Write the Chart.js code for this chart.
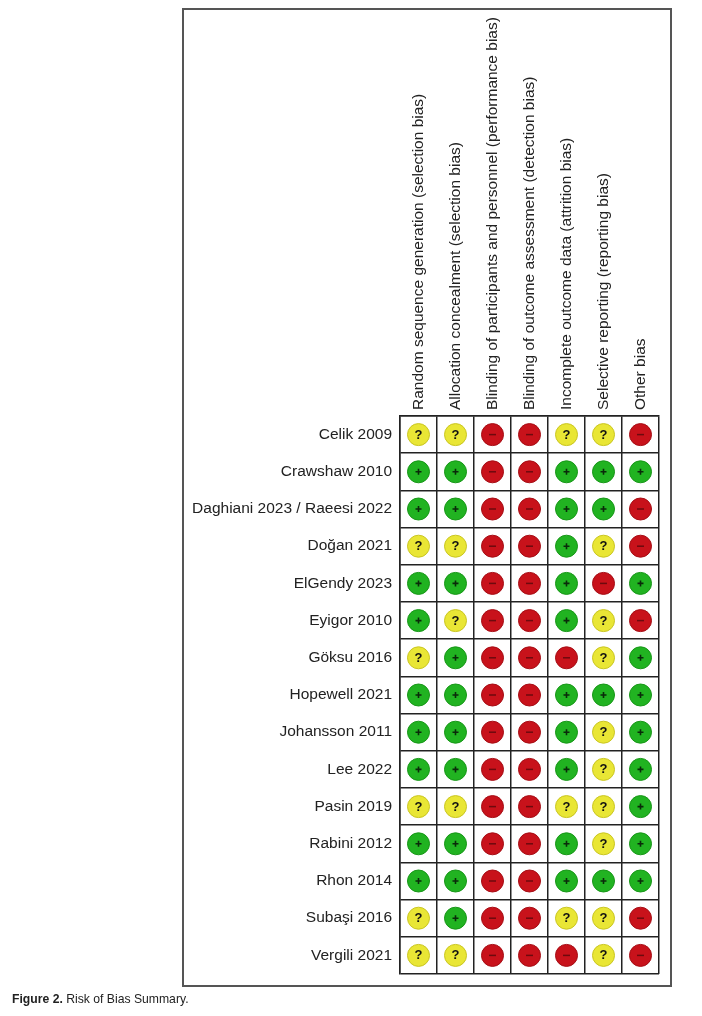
<!DOCTYPE html>
<html>
<head>
<meta charset="utf-8">
<script src="https://cdn.jsdelivr.net/npm/chart.js@4"></script>
<style>
  html, body { margin: 0; padding: 0; background: #fff; }
  #wrap { position: relative; width: 702px; height: 1016px; }
  #frame { position: absolute; left: 182px; top: 8px; width: 486px; height: 975px; border: 2px solid #555; box-sizing: content-box; }
  canvas { position: absolute; left: 0; top: 0; }
  #caption { position: absolute; left: 12px; top: 992px; font-family: "Liberation Sans", Arial, sans-serif; font-size: 12.2px; color: #222; }
</style>
</head>
<body>
<div id="wrap">
  <div id="frame"></div>
  <canvas id="c" width="702" height="1016"></canvas>
  <div id="caption"><b>Figure 2.</b> Risk of Bias Summary.</div>
</div>
<script>
const domains = [
  'Random sequence generation (selection bias)',
  'Allocation concealment (selection bias)',
  'Blinding of participants and personnel (performance bias)',
  'Blinding of outcome assessment (detection bias)',
  'Incomplete outcome data (attrition bias)',
  'Selective reporting (reporting bias)',
  'Other bias'
];
const studies = [
  'Celik 2009', 'Crawshaw 2010', 'Daghiani 2023 / Raeesi 2022', 'Doğan 2021',
  'ElGendy 2023', 'Eyigor 2010', 'Göksu 2016', 'Hopewell 2021', 'Johansson 2011',
  'Lee 2022', 'Pasin 2019', 'Rabini 2012', 'Rhon 2014', 'Subaşi 2016', 'Vergili 2021'
];
// '+' low risk, '?' unclear risk, '-' high risk (one entry per study, in order)
const randomSequence     = ['?','+','+','?','+','+','?','+','+','+','?','+','+','?','?'];
const allocation         = ['?','+','+','?','+','?','+','+','+','+','?','+','+','+','?'];
const blindingPersonnel  = ['-','-','-','-','-','-','-','-','-','-','-','-','-','-','-'];
const blindingOutcome    = ['-','-','-','-','-','-','-','-','-','-','-','-','-','-','-'];
const incompleteOutcome  = ['?','+','+','+','+','+','-','+','+','+','?','+','+','?','-'];
const selectiveReporting = ['?','+','+','?','-','?','?','+','?','?','?','?','+','?','?'];
const otherBias          = ['-','+','-','-','+','-','+','+','+','+','+','+','+','-','-'];

const judgments = [randomSequence, allocation, blindingPersonnel, blindingOutcome,
                   incompleteOutcome, selectiveReporting, otherBias];

const fills   = { '+': '#21b321', '?': '#e9e635', '-': '#c8121b' };
const borders = { '+': '#179617', '?': '#c9c522', '-': '#a50d14' };

const points = [];
judgments.forEach((col, di) => {
  col.forEach((j, si) => points.push({ x: domains[di], y: studies[si], j: j }));
});

const FONT = '"Liberation Sans", Arial, sans-serif';

const symbolPlugin = {
  id: 'symbols',
  afterDatasetsDraw(chart) {
    const ctx = chart.ctx;
    const meta = chart.getDatasetMeta(0);
    ctx.save();
    meta.data.forEach((el, i) => {
      const j = chart.data.datasets[0].data[i].j;
      const x = el.x, y = el.y;
      if (j === '+') {
        ctx.strokeStyle = '#0a2a0a';
        ctx.lineWidth = 1.6;
        ctx.beginPath();
        ctx.moveTo(x - 3, y); ctx.lineTo(x + 3, y);
        ctx.moveTo(x, y - 3); ctx.lineTo(x, y + 3);
        ctx.stroke();
      } else if (j === '-') {
        ctx.strokeStyle = '#6e0a0e';
        ctx.lineWidth = 1.5;
        ctx.beginPath();
        ctx.moveTo(x - 3.5, y); ctx.lineTo(x + 3.5, y);
        ctx.stroke();
      } else {
        ctx.fillStyle = '#111';
        ctx.font = 'bold 13px ' + FONT;
        ctx.textAlign = 'center';
        ctx.textBaseline = 'middle';
        ctx.fillText('?', x, y + 0.5);
      }
    });
    ctx.restore();
  }
};

new Chart(document.getElementById('c'), {
  type: 'scatter',
  data: {
    datasets: [{
      data: points,
      pointRadius: 11,
      pointHoverRadius: 11,
      pointBorderWidth: 1,
      backgroundColor: c => fills[c.raw ? c.raw.j : '+'],
      borderColor: c => borders[c.raw ? c.raw.j : '+'],
      showLine: false
    }]
  },
  options: {
    responsive: false,
    animation: false,
    events: [],
    layout: { padding: { left: 186, top: 10, right: 43, bottom: 42 } },
    plugins: { legend: { display: false }, tooltip: { enabled: false } },
    scales: {
      x: {
        type: 'category',
        labels: domains,
        position: 'top',
        offset: true,
        afterFit: s => { s.height = 406; },
        grid: { offset: true, color: '#222', lineWidth: 1.5, drawTicks: false },
        border: { color: '#222', width: 1.5 },
        ticks: {
          minRotation: 90, maxRotation: 90, autoSkip: false, padding: 6, labelOffset: 19,
          color: '#222', font: { family: FONT, size: 15.5 }
        }
      },
      y: {
        type: 'category',
        labels: studies,
        offset: true,
        afterFit: s => { s.width = 214; },
        grid: { offset: true, color: '#222', lineWidth: 1.5, drawTicks: false },
        border: { color: '#222', width: 1.5 },
        ticks: {
          autoSkip: false, padding: 8,
          color: '#222', font: { family: FONT, size: 15.5 }
        }
      }
    }
  },
  plugins: [symbolPlugin]
});
</script>
</body>
</html>
